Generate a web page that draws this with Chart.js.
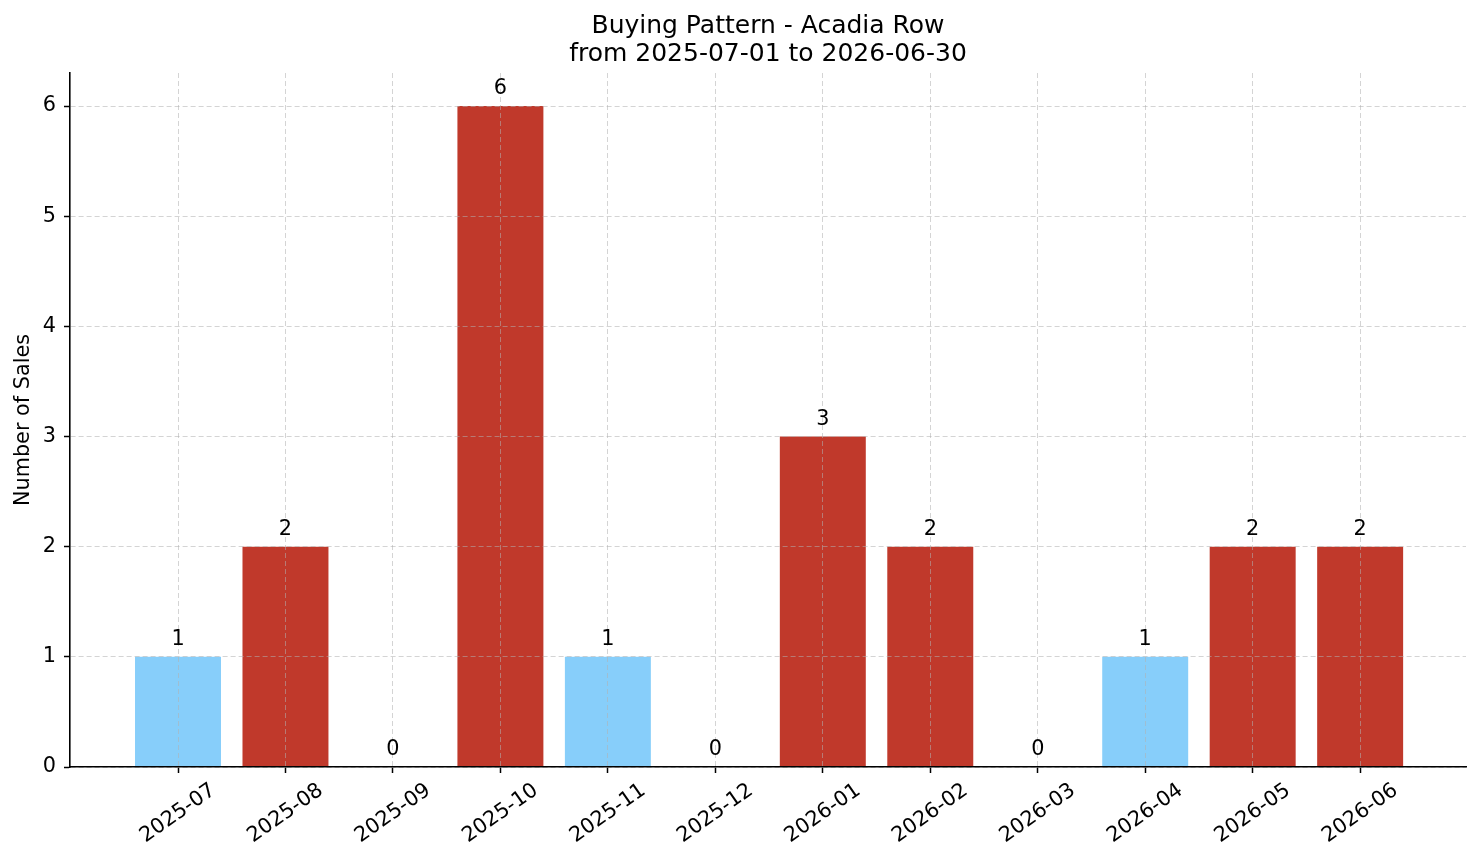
<!DOCTYPE html>
<html><head><meta charset="utf-8">
<script src="https://cdn.jsdelivr.net/npm/chart.js@4.4.0/dist/chart.umd.min.js"></script>
<style>html,body{margin:0;padding:0;background:#fff}#wrap{width:1481px;height:863px}</style>
</head><body><div id="wrap"><canvas id="c" width="1481" height="863"></canvas></div>
<script>
const months = ['2025-07','2025-08','2025-09','2025-10','2025-11','2025-12','2026-01','2026-02','2026-03','2026-04','2026-05','2026-06'];
const sales = [1,2,0,6,1,0,3,2,0,1,2,2];
const yTickValues = [0,1,2,3,4,5,6];
const titleLines = ['Buying Pattern - Acadia Row','from 2025-07-01 to 2026-06-30'];
const yAxisLabel = 'Number of Sales';

const RED = '#C0392B', BLUE = '#87CEFA';
const mean = sales.reduce((a,b)=>a+b,0)/sales.length;
const barColors = sales.map(v => v > mean ? RED : BLUE);

Chart.defaults.font.family = "'DejaVu Sans', sans-serif";
Chart.defaults.color = '#000';
const FS = 20.8;
const TICK_LEN = 6, TICK_PAD = 7;

const mplText = {
  id: 'mplText',
  afterDraw(chart) {
    const ctx = chart.ctx, xs = chart.scales.x, ys = chart.scales.y;
    ctx.save();
    ctx.font = FS + "px 'DejaVu Sans'";
    ctx.fillStyle = '#000';
    ctx.textAlign = 'center';
    ctx.textBaseline = 'alphabetic';
    sales.forEach((v, i) => {
      ctx.fillText(String(v), xs.getPixelForValue(i), ys.getPixelForValue(v) - 12);
    });
    const ang = 35 * Math.PI / 180;
    months.forEach((m, i) => {
      const w = ctx.measureText(m).width, h = FS;
      const H = w * Math.sin(ang) + h * Math.cos(ang);
      const cx = xs.getPixelForValue(i), cy = xs.top + TICK_LEN + TICK_PAD + H / 2;
      ctx.save();
      ctx.translate(cx, cy);
      ctx.rotate(-ang);
      ctx.textAlign = 'center';
      ctx.textBaseline = 'middle';
      ctx.fillText(m, 0, 0);
      ctx.restore();
    });
    ctx.restore();
  }
};

const gridOpts = { color: 'rgba(176,176,176,0.55)', lineWidth: 1, z: 1, offset: false, drawTicks: true, tickLength: TICK_LEN, tickColor: '#000', tickWidth: 1.5 };
const borderOpts = { display: true, color: '#000', width: 1.6, dash: [5,3], z: 2 };

new Chart(document.getElementById('c'), {
  type: 'bar',
  data: { datasets: [{
    data: sales.map((v, i) => ({ x: i, y: v })),
    backgroundColor: barColors, borderWidth: 0, barPercentage: 0.8, categoryPercentage: 1.0
  }]},
  options: {
    responsive: false, animation: false, devicePixelRatio: 1,
    layout: { padding: { left: 0, right: 15, top: 0, bottom: 0 } },
    plugins: {
      legend: { display: false }, tooltip: { enabled: false },
      title: { display: true, text: titleLines, fullSize: false, color: '#000',
        font: { size: 25, weight: 'normal', lineHeight: 1.12 }, padding: { top: 12, bottom: 5 } }
    },
    scales: {
      x: { type: 'linear', min: -1.005, max: 11.985, offset: false,
        afterBuildTicks: s => { s.ticks = months.map((_, i) => ({ value: i })); },
        afterFit: s => { s.height = 96; },
        ticks: { display: false },
        grid: gridOpts, border: borderOpts },
      y: { type: 'linear', min: 0, max: 6.3,
        afterBuildTicks: s => { s.ticks = yTickValues.map(v => ({ value: v })); },
        afterFit: s => { s.width = 70; },
        ticks: { font: { size: FS }, color: '#000', padding: 8 },
        grid: gridOpts, border: borderOpts,
        title: { display: true, text: yAxisLabel, color: '#000', font: { size: FS }, padding: { top: 11, bottom: 0 } } }
    }
  },
  plugins: [mplText]
});
</script></body></html>
